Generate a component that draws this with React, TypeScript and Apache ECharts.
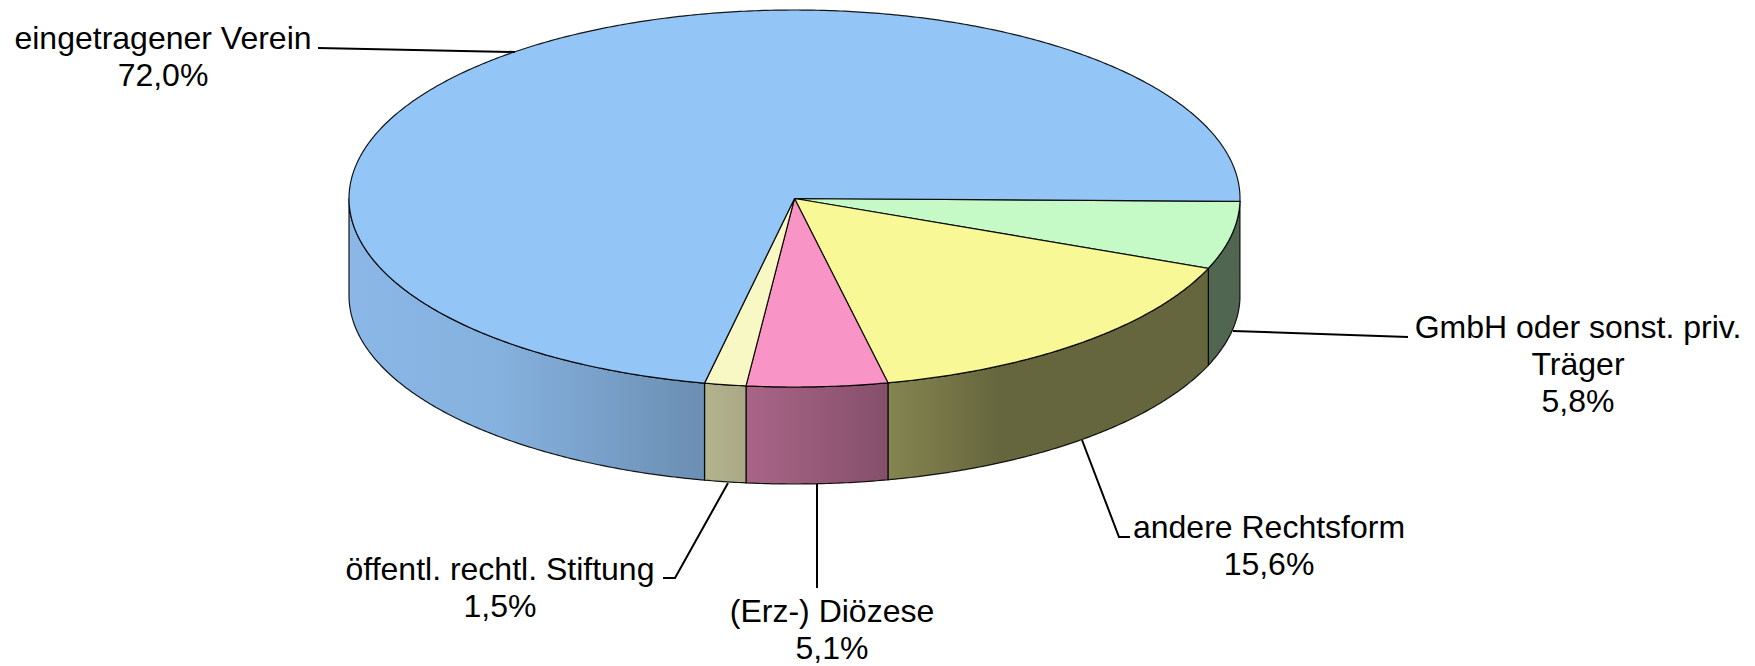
import React, { useEffect, useRef } from "react";
import * as echarts from "echarts";

const categories = [
  "GmbH oder sonst. priv.\nTräger",
  "andere Rechtsform",
  "(Erz-) Diözese",
  "öffentl. rechtl. Stiftung",
  "eingetragener Verein",
];
const values = [5.8, 15.6, 5.1, 1.5, 72.0];
const colors = [
  [197, 249, 197],
  [248, 248, 151],
  [249, 148, 199],
  [248, 248, 197],
  [148, 197, 247],
];
// label block centres
const labelPos = [
  [1578, 364],
  [1269, 545],
  [832, 629],
  [500, 587],
  [163, 56],
];
// leader lines
const leaders = [
  [[1408, 337], [1233, 331]],
  [[1130, 537], [1119, 537], [1082, 440]],
  [[817, 588], [817, 484]],
  [[663, 578], [675, 578], [728, 483]],
  [[318, 48], [515, 52]],
];

const CX = 794.5, CY = 198.5, RX = 445.5, RY = 188.5, DEPTH = 97, START = 0.85;
const FONT_SIZE = 32;

// brightness of the side wall across the pie's width
const shadeStops = [
  [0, 0.93],
  [0.17, 0.9],
  [0.4, 0.72],
  [0.6, 0.54],
  [0.73, 0.41],
  [1, 0.41],
];

const total = values.reduce((a, b) => a + b, 0);
const ranges = (() => {
  let a = START;
  return values.map((v) => {
    const r = [a, a + (v / total) * 360];
    a = r[1];
    return r;
  });
})();

const pt = (deg: number, dy = 0) => {
  const t = (deg * Math.PI) / 180;
  return [CX + RX * Math.cos(t), CY + RY * Math.sin(t) + dy];
};
const arc = (a: number, b: number, dy = 0) => {
  const n = Math.max(2, Math.ceil(Math.abs(b - a) * 2));
  const out: number[][] = [];
  for (let i = 0; i <= n; i++) out.push(pt(a + ((b - a) * i) / n, dy));
  return out;
};
const toPath = (pts: number[][]) =>
  "M" + pts.map((p) => p[0].toFixed(2) + " " + p[1].toFixed(2)).join("L") + "Z";

const sideFill = (c: number[]) => ({
  type: "linear",
  x: CX - RX,
  y: 0,
  x2: CX + RX,
  y2: 0,
  global: true,
  colorStops: shadeStops.map(([offset, f]) => ({
    offset,
    color: `rgb(${c.map((v) => Math.round(v * f)).join(",")})`,
  })),
});

const EDGE = { stroke: "rgba(0,0,0,0.9)", lineWidth: 1.2 };

export default function App() {
  const ref = useRef<HTMLDivElement>(null);
  useEffect(() => {
    document.body.style.margin = "0";
    const chart = echarts.init(ref.current!, null, { renderer: "svg" });
    const data = values.map((value, i) => ({ value, name: categories[i] }));
    chart.setOption({
      animation: false,
      backgroundColor: "#fff",
      series: [
        {
          type: "custom",
          coordinateSystem: "none",
          silent: true,
          data,
          renderItem: (p: any) => {
            const i = p.dataIndex;
            const a = Math.max(ranges[i][0], 0);
            const b = Math.min(ranges[i][1], 180);
            if (b <= a) return { type: "group", children: [] };
            const pts = arc(a, b).concat(arc(b, a, DEPTH));
            return {
              type: "path",
              shape: { pathData: toPath(pts) },
              style: { fill: sideFill(colors[i]), ...EDGE },
            };
          },
        },
        {
          type: "custom",
          coordinateSystem: "none",
          silent: true,
          data,
          renderItem: (p: any) => {
            const i = p.dataIndex;
            const pts = [[CX, CY]].concat(arc(ranges[i][0], ranges[i][1]));
            return {
              type: "path",
              shape: { pathData: toPath(pts) },
              style: { fill: `rgb(${colors[i].join(",")})`, ...EDGE },
            };
          },
        },
        {
          type: "custom",
          coordinateSystem: "none",
          silent: true,
          data,
          renderItem: (p: any) => {
            const i = p.dataIndex;
            return {
              type: "group",
              children: [
                {
                  type: "polyline",
                  shape: { points: leaders[i] },
                  style: { stroke: "#000", lineWidth: 2, fill: null },
                },
                {
                  type: "text",
                  style: {
                    text: categories[i] + "\n" + values[i].toFixed(1).replace(".", ",") + "%",
                    x: labelPos[i][0],
                    y: labelPos[i][1],
                    align: "center",
                    verticalAlign: "middle",
                    fontFamily: "Liberation Sans",
                    fontSize: FONT_SIZE,
                    lineHeight: 37,
                    fill: "#000",
                  },
                },
              ],
            };
          },
        },
      ],
    });
    return () => chart.dispose();
  }, []);
  return (
    <div
      ref={ref}
      style={{ position: "absolute", left: 0, top: 0, width: 1755, height: 666 }}
    />
  );
}
